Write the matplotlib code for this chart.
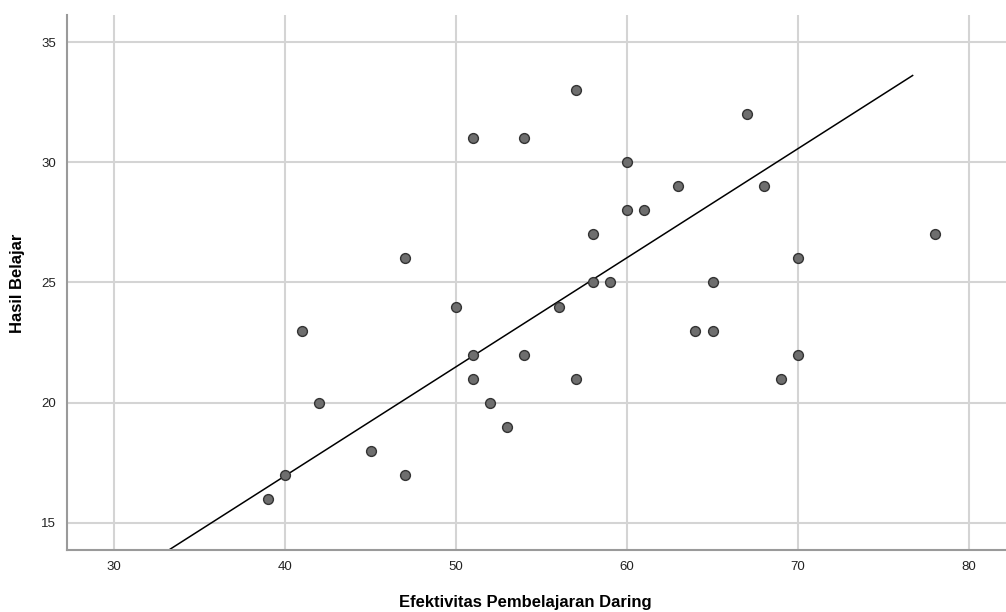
import matplotlib
matplotlib.use("Agg")
import matplotlib.pyplot as plt

# Efektivitas Pembelajaran Daring (x) vs Hasil Belajar (y)
efektivitas = [39, 40, 41, 42, 45, 47, 47, 50, 51, 51, 51, 52, 53, 54, 54, 56, 57,
               57, 58, 58, 59, 60, 60, 61, 63, 64, 65, 65, 67, 68, 69, 70, 70, 78]
hasil = [16, 17, 23, 20, 18, 26, 17, 24, 31, 22, 21, 20, 19, 31, 22, 24, 33,
         21, 27, 25, 25, 30, 28, 28, 29, 23, 25, 23, 32, 29, 21, 26, 22, 27]

# fit line
fit_slope = 0.4537
fit_intercept = -1.19
fit_range = [33.2, 76.7]

x_ticks = [30, 40, 50, 60, 70, 80]
y_ticks = [15, 20, 25, 30, 35]

plt.rcParams['font.family'] = ['Liberation Sans', 'DejaVu Sans']

fig = plt.figure(figsize=(10.06, 6.12), dpi=100)
ax = fig.add_axes([0.0666, 0.1013, 0.9334, 0.8742])

ax.grid(True, color='#d4d4d4', linewidth=1.5, zorder=0)
ax.set_axisbelow(True)

fit_y = [fit_intercept + fit_slope * v for v in fit_range]
ax.plot(fit_range, fit_y, color='black', linewidth=1.1, zorder=2)

ax.scatter(efektivitas, hasil, s=50, color='#6e6e6e', edgecolors='#333333',
           linewidths=1.0, zorder=3)

ax.set_xlim(27.25, 82.16)
ax.set_ylim(13.875, 36.125)
ax.set_xticks(x_ticks)
ax.set_yticks(y_ticks)
ax.tick_params(length=0, labelsize=9.5, colors='#222222', pad=8)

for s in ['top', 'right']:
    ax.spines[s].set_visible(False)
for s in ['left', 'bottom']:
    ax.spines[s].set_color('#9a9a9a')
    ax.spines[s].set_linewidth(1.5)

ax.set_xlabel('Efektivitas Pembelajaran Daring', fontsize=12, fontweight='bold')
ax.set_ylabel('Hasil Belajar', fontsize=12, fontweight='bold')
ax.xaxis.set_label_coords(525 / 1006, 1 - 603 / 612, transform=fig.transFigure)
ax.yaxis.set_label_coords(18 / 1006, 1 - 283 / 612, transform=fig.transFigure)
ax.xaxis.label.set_va('center')
ax.yaxis.label.set_va('center')

fig.savefig('out.png', dpi=100)
